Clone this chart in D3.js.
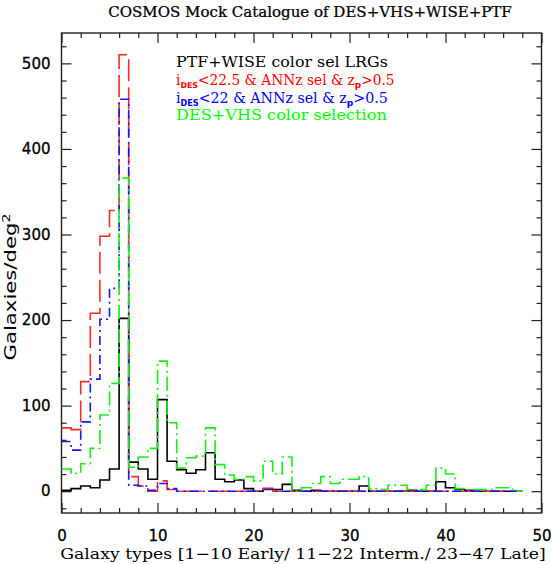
<!DOCTYPE html>
<html><head><meta charset="utf-8">
<script src="https://cdn.jsdelivr.net/npm/d3@7"></script>
<style>body{margin:0;background:#fff}svg{display:block}</style>
</head><body>
<svg id="c" width="552" height="564"></svg>
<script>
// bin starts (galaxy type bins of width 1)
const bins = d3.range(0, 48);
const lrg = [1,3,6,4,13,26,202,34,26,14,107,35,25,21,25,45,14,11,13,3,0,3,2,8,1,0,1,0,0,0,0,6,0,0,0,0,1,0,0,11,4,2,1,0,0,0,0,0];
const des225 = [74,72,128,208,298,328,510,17,6,0,12,2,0,0,0,0,0,0,0,0,0,3,0,0,0,0,0,0,0,0,0,0,0,0,0,0,0,0,0,0,0,0,0,0,0,0,0,0];
const des22 = [58,48,81,131,201,237,458,7,6,1,9,3,0,0,0,0,0,0,0,0,0,2,0,0,0,0,0,0,0,0,0,0,0,0,0,0,0,0,0,0,0,0,0,0,0,0,0,0];
const desvhs = [26,21,32,50,89,126,366,28,40,50,152,80,27,39,41,74,31,19,14,17,12,35,20,40,0,4,9,17,9,14,14,17,3,2,7,7,2,2,7,27,20,3,2,2,2,4,4,0];
const xTicks = [0,10,20,30,40,50];
const yTicks = [0,100,200,300,400,500];
const xDomain = [0,50];
const yDomain = [-25.5,535.5];

const svg = d3.select("#c");
const L=61.5, R=541.5, T=33, B=513;
const x = d3.scaleLinear(xDomain,[L,R]);
const y = d3.scaleLinear(yDomain,[B,T]);
const axCol = "#222";

// frame
svg.append("rect").attr("x",L).attr("y",T).attr("width",R-L).attr("height",B-T)
  .attr("fill","none").attr("stroke",axCol).attr("stroke-width",1.4);

function styleAxis(g){ g.select(".domain").remove(); g.selectAll("line").attr("stroke",axCol).attr("stroke-width",1.2); }
const minorX = d3.range(0,51,2).filter(v=>v%10!==0);
const minorY = d3.range(-20,535,20).filter(v=>v%100!==0);
const tickText = g=>g.selectAll("text").attr("font-family","DejaVu Sans").attr("font-size",15).attr("fill","#000").attr("stroke","#000").attr("stroke-width",0.3);
// bottom
svg.append("g").attr("transform",`translate(0,${B})`)
  .call(d3.axisBottom(x).tickValues(xTicks).tickSize(-10).tickSizeOuter(0).tickPadding(14).tickFormat(d3.format("d")))
  .call(styleAxis).call(tickText).call(g=>g.selectAll("text").attr("dy","0.9em"));
svg.append("g").attr("transform",`translate(0,${B})`)
  .call(d3.axisBottom(x).tickValues(minorX).tickSize(-5).tickSizeOuter(0).tickFormat(""))
  .call(styleAxis);
// top
svg.append("g").attr("transform",`translate(0,${T})`)
  .call(d3.axisTop(x).tickValues(xTicks).tickSize(-10).tickSizeOuter(0).tickFormat(""))
  .call(styleAxis);
svg.append("g").attr("transform",`translate(0,${T})`)
  .call(d3.axisTop(x).tickValues(minorX).tickSize(-5).tickSizeOuter(0).tickFormat(""))
  .call(styleAxis);
// left
svg.append("g").attr("transform",`translate(${L},0)`)
  .call(d3.axisLeft(y).tickValues(yTicks).tickSize(-10).tickSizeOuter(0).tickPadding(11).tickFormat(d3.format("d")))
  .call(styleAxis).call(tickText);
svg.append("g").attr("transform",`translate(${L},0)`)
  .call(d3.axisLeft(y).tickValues(minorY).tickSize(-5).tickSizeOuter(0).tickFormat(""))
  .call(styleAxis);
// right
svg.append("g").attr("transform",`translate(${R},0)`)
  .call(d3.axisRight(y).tickValues(yTicks).tickSize(-10).tickSizeOuter(0).tickFormat(""))
  .call(styleAxis);
svg.append("g").attr("transform",`translate(${R},0)`)
  .call(d3.axisRight(y).tickValues(minorY).tickSize(-5).tickSizeOuter(0).tickFormat(""))
  .call(styleAxis);

// histograms
const plot = svg.append("g");
const line = d3.line().x(d=>x(d[0])).y(d=>y(d[1])).curve(d3.curveStepAfter);
function steps(vals){ const pts = bins.map((b,i)=>[b,vals[i]]); pts.push([bins[bins.length-1]+1, vals[vals.length-1]]); return pts; }
const series = [
  {v:lrg, c:"#000000", dash:null},
  {v:des225, c:"#ff2a2a", dash:"22,6"},
  {v:des22, c:"#1414ff", dash:"9,4,2,4"},
  {v:desvhs, c:"#14f014", dash:"14,4,2,4"}
];
series.forEach(s=>{
  plot.append("path").attr("d",line(steps(s.v))).attr("fill","none")
    .attr("stroke",s.c).attr("stroke-width",1.6).attr("stroke-dasharray",s.dash);
});

// text helpers
function fit(t, w, X, Y, rot, anchor){
  t.attr("x",0).attr("y",0).attr("text-anchor",anchor||"start");
  const bb = t.node().getBBox();
  const s = w/bb.width;
  t.attr("transform",`translate(${X},${Y}) rotate(${rot||0}) scale(${s},1)`);
}
const serif = "DejaVu Serif";
const title = svg.append("text").attr("font-family",serif).attr("font-size",14).attr("fill","#000")
  .attr("stroke","#000").attr("stroke-width",0.25)
  .text("COSMOS Mock Catalogue of DES+VHS+WISE+PTF");
fit(title, 404, 310, 17, 0, "middle");

const xl = svg.append("text").attr("font-family",serif).attr("font-size",15).attr("fill","#000")
  .text("Galaxy types [1\u221210 Early/ 11\u221222 Interm./ 23\u221247 Late]");
fit(xl, 486, 303, 559, 0, "middle");

const yl = svg.append("text").attr("font-family","DejaVu Sans").attr("font-size",15).attr("fill","#000");
yl.append("tspan").text("Galaxies/deg");
yl.append("tspan").attr("font-size",10).attr("dy",-6).text("2");
fit(yl, 147, 16, 287, -90, "middle");

// legend
const lx = 176;
const l1 = svg.append("text").attr("font-family",serif).attr("font-size",14).attr("fill","#000").text("PTF+WISE color sel LRGs");
fit(l1, 212, lx, 67);
function selLine(mag, col, w, yy){
  const t = svg.append("text").attr("font-family",serif).attr("font-size",14).attr("fill",col);
  t.append("tspan").text("i");
  t.append("tspan").attr("font-size",8).attr("font-weight","bold").attr("font-family","DejaVu Sans").attr("dy",3).text("DES");
  t.append("tspan").attr("dy",-3).text(`<${mag} & ANNz sel & z`);
  t.append("tspan").attr("font-size",9).attr("font-weight","bold").attr("font-family","DejaVu Sans").attr("dy",3).text("p");
  t.append("tspan").attr("dy",-3).text(">0.5");
  fit(t, w, lx, yy);
}
selLine("22.5", "#ff0000", 219, 85);
selLine("22", "#0000ff", 212, 103);
const l4 = svg.append("text").attr("font-family",serif).attr("font-size",14).attr("fill","#00ff00").text("DES+VHS color selection");
fit(l4, 211, lx, 120);
</script>
</body></html>
